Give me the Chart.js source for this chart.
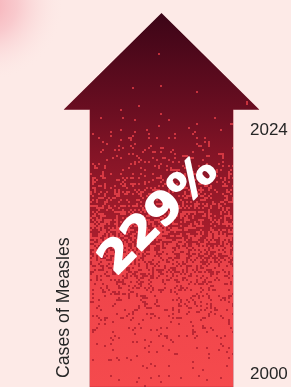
<!DOCTYPE html>
<html>
<head>
<meta charset="utf-8">
<script src="https://cdn.jsdelivr.net/npm/chart.js@4.4.1/dist/chart.umd.min.js"></script>
<style>
    html, body { margin: 0; padding: 0; background: #fdeae7; }
    #wrap { width: 291px; height: 387px; }
</style>
</head>
<body>
<div id="wrap"><canvas id="measlesChart"></canvas></div>
<script>
// values
const categories = ['Cases of Measles'];
const yearTicks = [2000, 2024];
const arrowShaft = [[1998.8, 2026]];     // shaft runs from just below 2000 to just above 2024
const arrowTip = 2035.5;
const yearRange = [1999.65, 2035.5];
const increasePct = [229];

// colour ramps along the arrow (0 = tip, 1 = bottom)
const darkStops = [[0, '#3c0517'], [0.26, '#6a0e21'], [0.4, '#881527'], [0.55, '#a21c2b'], [0.72, '#b82432'], [1, '#c22b37']];
const brightStops = [[0, '#b82a36'], [0.35, '#cf3540'], [0.5, '#dc3c45'], [0.75, '#f0454b'], [1, '#f54a4d']];
const grainCurve = [[0, 0], [0.22, 0.004], [0.3, 0.03], [0.37, 0.08], [0.5, 0.3], [0.63, 0.58], [0.77, 0.86], [0.9, 0.96], [1, 0.985]];

function lookup(curve, t) {
    for (let i = 1; i < curve.length; i++) {
        if (t <= curve[i][0]) {
            const a = curve[i - 1], b = curve[i];
            return a[1] + (b[1] - a[1]) * (t - a[0]) / (b[0] - a[0]);
        }
    }
    return curve[curve.length - 1][1];
}

// seeded so the grain is the same every time
function mulberry32(a) {
    return function() {
        a |= 0; a = a + 0x6D2B79F5 | 0;
        let t = Math.imul(a ^ a >>> 15, 1 | a);
        t = t + Math.imul(t ^ t >>> 7, 61 | t) ^ t;
        return ((t ^ t >>> 14) >>> 0) / 4294967296;
    };
}

const backgroundPlugin = {
    id: 'pinkBackground',
    beforeDraw(chart) {
        const ctx = chart.ctx;
        ctx.save();
        ctx.fillStyle = '#fdeae7';
        ctx.fillRect(0, 0, chart.width, chart.height);
        const g = ctx.createRadialGradient(-14, 4, 0, -14, 4, 78);
        g.addColorStop(0, 'rgba(244,160,170,0.85)');
        g.addColorStop(0.4, 'rgba(246,180,188,0.6)');
        g.addColorStop(0.75, 'rgba(250,210,212,0.25)');
        g.addColorStop(1, 'rgba(253,234,231,0)');
        ctx.fillStyle = g;
        ctx.fillRect(0, 0, 90, 90);
        ctx.restore();
    }
};

const arrowPlugin = {
    id: 'arrowHead',
    afterDatasetsDraw(chart) {
        const bar = chart.getDatasetMeta(0).data[0];
        const yScale = chart.scales.y;
        const ctx = chart.ctx;
        const half = bar.width / 2;
        const headHalf = half * 1.37;
        const tipY = yScale.getPixelForValue(arrowTip);
        const baseY = bar.base;
        const span = baseY - tipY;

        ctx.save();
        ctx.beginPath();
        ctx.moveTo(bar.x - half, baseY);
        ctx.lineTo(bar.x - half, bar.y);
        ctx.lineTo(bar.x - headHalf, bar.y);
        ctx.lineTo(bar.x, tipY);
        ctx.lineTo(bar.x + headHalf, bar.y);
        ctx.lineTo(bar.x + half, bar.y);
        ctx.lineTo(bar.x + half, baseY);
        ctx.closePath();
        ctx.clip();

        const dark = ctx.createLinearGradient(0, tipY, 0, baseY);
        darkStops.forEach(s => dark.addColorStop(s[0], s[1]));
        ctx.fillStyle = dark;
        ctx.fillRect(bar.x - headHalf, tipY, headHalf * 2, span);

        const bright = ctx.createLinearGradient(0, tipY, 0, baseY);
        brightStops.forEach(s => bright.addColorStop(s[0], s[1]));
        ctx.fillStyle = bright;
        const rand = mulberry32(229);
        const cell = 2;
        ctx.beginPath();
        for (let py = tipY; py < baseY; py += cell) {
            const p = lookup(grainCurve, (py - tipY) / span);
            for (let px = bar.x - headHalf; px < bar.x + headHalf; px += cell) {
                if (rand() < p) ctx.rect(Math.round(px), Math.round(py), cell, cell);
            }
        }
        ctx.fill();
        ctx.restore();

        // percentage label, wide and heavy
        ctx.save();
        ctx.translate(bar.x - 2, tipY + span * 0.545);
        ctx.rotate(-Math.PI / 4);
        ctx.scale(1.08, 1);
        ctx.font = 'bold 44px "DejaVu Sans"';
        ctx.fillStyle = '#ffffff';
        ctx.strokeStyle = '#ffffff';
        ctx.lineWidth = 1.6;
        ctx.lineJoin = 'round';
        ctx.textAlign = 'center';
        ctx.textBaseline = 'middle';
        ctx.fillText(increasePct[0] + '%', 0, 0);
        ctx.strokeText(increasePct[0] + '%', 0, 0);
        ctx.restore();
    }
};

const ctx = document.getElementById('measlesChart').getContext('2d');
new Chart(ctx, {
    type: 'bar',
    data: {
        labels: categories,
        datasets: [{
            data: arrowShaft,
            backgroundColor: '#a21c2b',
            borderWidth: 0,
            categoryPercentage: 1,
            barPercentage: 1,
            clip: false
        }]
    },
    options: {
        responsive: true,
        maintainAspectRatio: false,
        animation: false,
        layout: { padding: { top: 13, bottom: 9, left: 0, right: 0 } },
        plugins: {
            legend: { display: false },
            tooltip: { enabled: false }
        },
        scales: {
            x: { display: false },
            y: {
                position: 'right',
                min: yearRange[0],
                max: yearRange[1],
                grid: { display: false, drawTicks: false },
                border: { display: false },
                ticks: {
                    padding: 17,
                    color: '#262626',
                    font: { family: '"Liberation Sans", Arial, sans-serif', size: 17 },
                    callback: v => String(v)
                },
                afterBuildTicks: scale => {
                    scale.ticks = yearTicks.map(v => ({ value: v }));
                },
                afterFit: scale => {
                    scale.width = 58;
                    scale.paddingTop = 0;
                    scale.paddingBottom = 0;
                }
            },
            yTitle: {
                position: 'left',
                min: yearRange[0],
                max: yearRange[1],
                grid: { display: false, drawTicks: false },
                border: { display: false },
                ticks: { display: false },
                title: {
                    display: true,
                    text: categories[0],
                    align: 'start',
                    color: '#262626',
                    padding: { top: 53, bottom: 0 },
                    font: { family: '"Liberation Sans", Arial, sans-serif', size: 17.7 }
                },
                afterFit: scale => {
                    scale.width = 90;
                    scale.paddingTop = 0;
                    scale.paddingBottom = 0;
                }
            }
        }
    },
    plugins: [backgroundPlugin, arrowPlugin]
});
</script>
</body>
</html>
